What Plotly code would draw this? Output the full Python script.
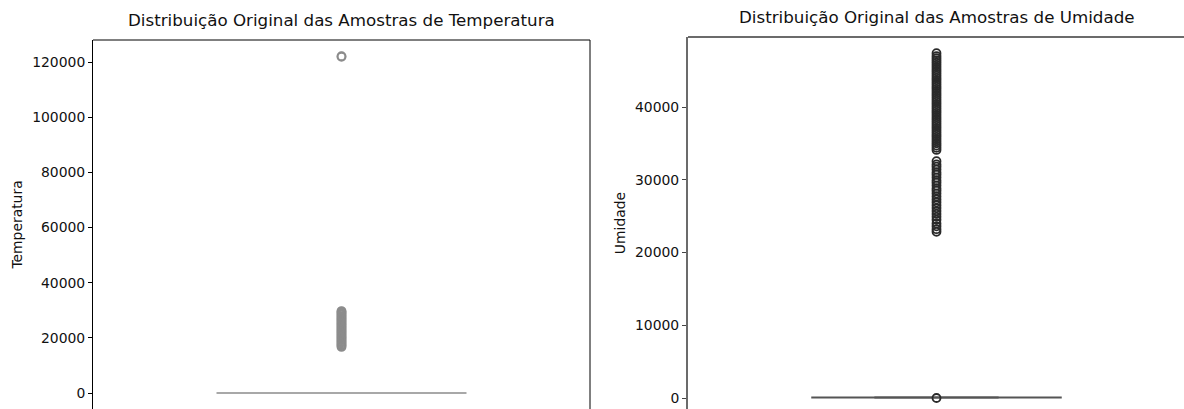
import plotly.graph_objects as go

# ---------------- data ----------------
temp_box_stats = {"q1": 21.0, "median": 24.5, "q3": 28.0, "lowerfence": 12.0, "upperfence": 38.0}
temp_outliers = [
    16700, 17100, 17500, 17900, 18300, 18700, 19100, 19500, 19900, 20300,
    20700, 21100, 21500, 21900, 22300, 22700, 23100, 23500, 23900, 24300,
    24700, 25100, 25500, 25900, 26300, 26700, 27100, 27500, 27900, 28300,
    28700, 29100, 29500, 29700, 121900, 122100,
]
umid_box_stats = {"q1": 55.0, "median": 68.0, "q3": 80.0, "lowerfence": 20.0, "upperfence": 99.0}
umid_outliers = [
    0, 22850, 23200, 23600, 24000, 24500, 24900, 25300, 25700, 26100, 26500,
    26900, 27300, 27700, 28100, 28500, 28800, 29200, 29600, 29900, 30300,
    30700, 31000, 31400, 31800, 32100, 32550,
    34100, 34400, 34700, 35000, 35300, 35600, 35900, 36200, 36500, 36800,
    37100, 37400, 37700, 38000, 38300, 38600, 38900, 39200, 39500, 39800,
    40100, 40400, 40700, 41000, 41300, 41600, 41900, 42200, 42500, 42800,
    43100, 43400, 43700, 44000, 44300, 44600, 44900, 45200, 45500, 45800,
    46100, 46400, 46700, 47000, 47400,
]
titles = ["Distribuição Original das Amostras de Temperatura",
          "Distribuição Original das Amostras de Umidade"]
y_labels = ["Temperatura", "Umidade"]
temp_ticks = [0, 20000, 40000, 60000, 80000, 100000, 120000]
umid_ticks = [0, 10000, 20000, 30000, 40000]

W, H = 1184, 409
FONT = "DejaVu Sans"
TICK_SIZE = 13.9
TITLE_SIZE = 16.7

fig = go.Figure()

# Temperature box (precomputed stats)
fig.add_trace(go.Box(
    x=[0], q1=[temp_box_stats["q1"]], median=[temp_box_stats["median"]],
    q3=[temp_box_stats["q3"]], lowerfence=[temp_box_stats["lowerfence"]],
    upperfence=[temp_box_stats["upperfence"]],
    width=0.5, whiskerwidth=0.5, boxpoints=False,
    line=dict(color="#8c8c8c", width=1.5), fillcolor="#bdbdbd",
    xaxis="x", yaxis="y", showlegend=False,
))
fig.add_trace(go.Scatter(
    x=[0] * len(temp_outliers), y=temp_outliers, mode="markers",
    marker=dict(symbol="circle-open", size=8, color="#8c8c8c", line=dict(width=1.8)),
    xaxis="x", yaxis="y", showlegend=False,
))

# Humidity box
fig.add_trace(go.Box(
    x=[0], q1=[umid_box_stats["q1"]], median=[umid_box_stats["median"]],
    q3=[umid_box_stats["q3"]], lowerfence=[umid_box_stats["lowerfence"]],
    upperfence=[umid_box_stats["upperfence"]],
    width=0.5, whiskerwidth=0.5, boxpoints=False,
    line=dict(color="#555555", width=2), fillcolor="#6a6a6a",
    xaxis="x2", yaxis="y2", showlegend=False,
))
fig.add_trace(go.Scatter(
    x=[0] * len(umid_outliers), y=umid_outliers, mode="markers",
    marker=dict(symbol="circle-open", size=8, color="#2a2a2a", line=dict(width=1.8)),
    xaxis="x2", yaxis="y2", showlegend=False,
))

# domains from pixel positions
lx0, lx1, ltop = 93, 590, 40
rx0, rx1, rtop = 688, 1185, 37

fig.update_layout(
    width=W, height=H,
    margin=dict(l=0, r=0, t=0, b=0),
    paper_bgcolor="white", plot_bgcolor="white",
    font=dict(family=FONT, size=TICK_SIZE, color="#111111"),
    xaxis=dict(domain=[lx0 / W, lx1 / W], range=[-0.5, 0.5], visible=False),
    yaxis=dict(domain=[0, 1 - ltop / H], range=[-5800, 127980],
               tickvals=temp_ticks, ticktext=[str(v) for v in temp_ticks],
               tickfont=dict(size=TICK_SIZE),
               showline=True, linecolor="black", linewidth=1,
               ticks="outside", ticklen=4, tickcolor="black", tickwidth=1,
               showgrid=False, zeroline=False,
               title=dict(text=y_labels[0], font=dict(size=TICK_SIZE), standoff=6)),
    xaxis2=dict(domain=[rx0 / W, 1.0], range=[-0.5, -0.5 + (W - rx0) / (rx1 - rx0)],
                visible=False, anchor="y2"),
    yaxis2=dict(domain=[0, 1 - rtop / H], range=[-1512, 49622], anchor="x2",
                tickvals=umid_ticks, ticktext=[str(v) for v in umid_ticks],
                tickfont=dict(size=TICK_SIZE),
                showline=True, linecolor="#6b6b6b", linewidth=2,
                ticks="outside", ticklen=4, tickcolor="#444444", tickwidth=1,
                showgrid=False, zeroline=False,
                title=dict(text=y_labels[1], font=dict(size=TICK_SIZE), standoff=6)),
    shapes=[
        dict(type="line", xref="x domain", yref="y domain", x0=0, x1=1, y0=1, y1=1,
             line=dict(color="black", width=1)),
        dict(type="line", xref="x domain", yref="y domain", x0=1, x1=1, y0=0, y1=1,
             line=dict(color="black", width=1)),
        dict(type="line", xref="x2 domain", yref="y2 domain", x0=0, x1=1, y0=1, y1=1,
             line=dict(color="#6b6b6b", width=2)),
    ],
    annotations=[
        dict(text=titles[0], xref="paper", yref="paper", x=(lx0 + lx1) / 2 / W,
             y=1 - 20 / H, xanchor="center", yanchor="middle", showarrow=False,
             font=dict(size=TITLE_SIZE, color="#111111")),
        dict(text=titles[1], xref="paper", yref="paper", x=(rx0 + rx1) / 2 / W,
             y=1 - 17 / H, xanchor="center", yanchor="middle", showarrow=False,
             font=dict(size=TITLE_SIZE, color="#111111")),
    ],
)

fig.write_html("out.html")
